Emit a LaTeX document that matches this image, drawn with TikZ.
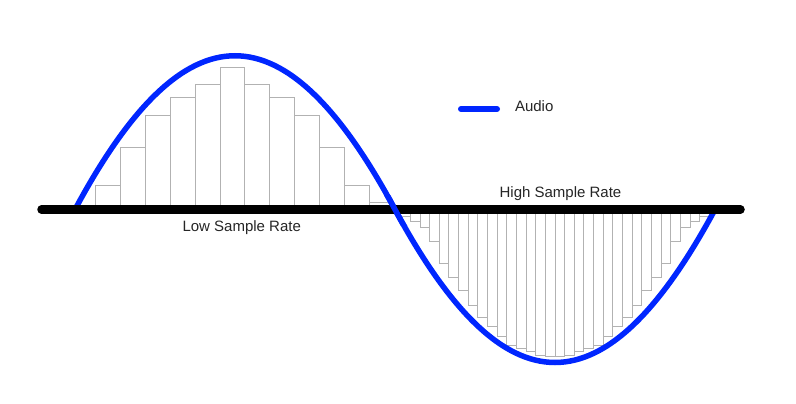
\documentclass[tikz,border=0pt]{standalone}
\usepackage{fontspec}
\setmainfont{Liberation Sans}
\definecolor{audioblue}{RGB}{0,38,255}
\definecolor{bargray}{RGB}{178,178,178}
\begin{document}
\begin{tikzpicture}[x=1pt,y=-1pt,
  bar/.style={draw=bargray,fill=white,line width=0.9pt},
  wave/.style={draw=audioblue,line width=5.5pt},
  axisline/.style={draw=black,line width=8.5pt,line cap=round},
  lbl/.style={inner sep=0pt,anchor=base,font=\fontsize{15}{18}\selectfont,text=black!85}]
\useasboundingbox[fill=white] (0,0) rectangle (796,404);
% low sample rate bars
\foreach \h [count=\i from 0] in {185.3,147,115,97,84,67.3,84,97,115,147,185.3,202.7}
  \draw[bar] ({95.7+24.85*\i},209.5) rectangle ({95.7+24.85*(\i+1)},\h);
% high sample rate bars
\foreach \h [count=\i from 0] in {216.7,221.7,227.8,241.7,263.3,277.2,290.5,305,317.3,326.7,336.9,345,348.3,351.7,355,356.9,
                                   356.9,355,351.7,348.3,345,336.9,326.7,317.3,305,290.5,277.2,263.3,241.7,227.8,221.7,216.7}
  \draw[bar] ({400.7+9.644*\i},209.5) rectangle ({400.7+9.644*(\i+1)},\h);
% wave
\coordinate (w0) at (75,209.5);
\coordinate (w1) at (395,209.5);
\coordinate (w2) at (715,209.5);
\path[wave] (w0) .. controls (185,4.5) and (285,4.5) .. (w1)
  .. controls (505,413.5) and (605,413.5) .. (w2);
% axis
\coordinate (a0) at (41.5,209.5);
\coordinate (a1) at (740.5,209.5);
\path[axisline] (a0) -- (a1);
% wave crossing drawn over the axis
\begin{scope}
\clip (380,195) rectangle (410,225);
\path[wave] (w0) .. controls (185,4.5) and (285,4.5) .. (w1)
  .. controls (505,413.5) and (605,413.5) .. (w2);
\end{scope}
% legend
\coordinate (l0) at (461,109);
\coordinate (l1) at (497,109);
\path[draw=audioblue,line width=6pt,line cap=round] (l0) -- (l1);
\node[lbl] (audio) at (534.2,111.7) {Audio};
% labels
\node[lbl] (low) at (241.7,231.5) {Low Sample Rate};
\node[lbl] (high) at (560.5,197.7) {High Sample Rate};
\end{tikzpicture}
\end{document}
